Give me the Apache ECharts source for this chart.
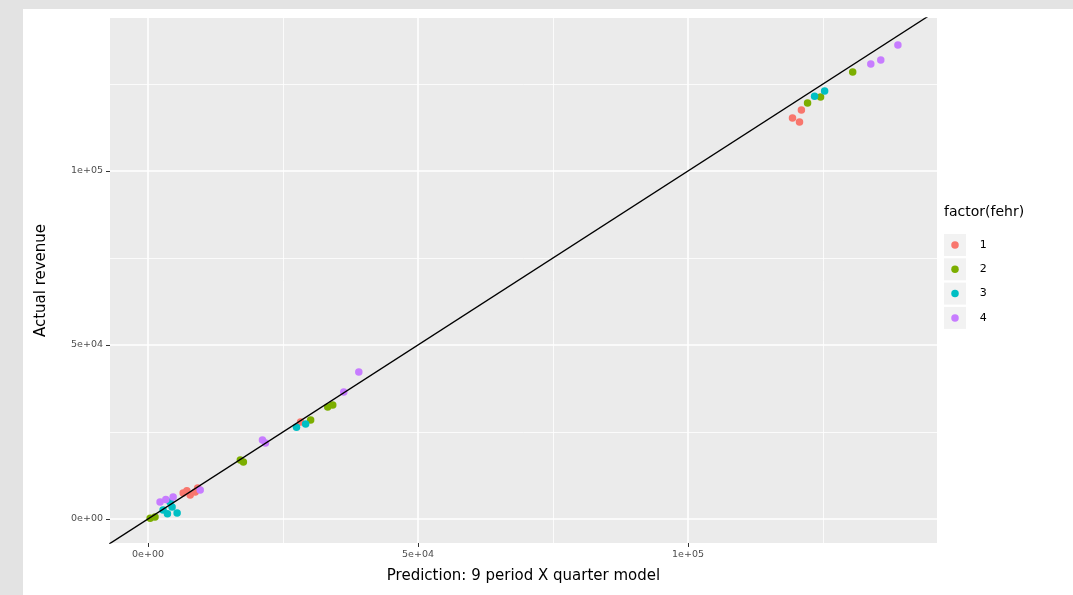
<!DOCTYPE html>
<html>
<head>
<meta charset="utf-8">
<script src="https://cdn.jsdelivr.net/npm/echarts@6/dist/echarts.min.js"></script>
<style>
  html, body { margin: 0; padding: 0; background: #e3e3e3; width: 1073px; height: 595px; overflow: hidden; }
  #chart { position: absolute; left: 23px; top: 9px; width: 1050px; height: 586px; background: #ffffff; }
</style>
</head>
<body>
<div id="chart"></div>
<script>
// Quarter groups and their colours
const groupNames = ['1', '2', '3', '4'];
const groupColors = ['#F8766D', '#7CAE00', '#00BFC4', '#C77CFF'];

// [predicted, actual] revenue per observation, by group
const group1 = [[6510, 7470], [7810, 6900], [8740, 7760], [7200, 8100], [9200, 8900],
                [28260, 27880], [119350, 115250], [120650, 114100], [121000, 117500]];
const group2 = [[400, 200], [1300, 570], [17660, 16380], [17100, 16960],
                [30120, 28450], [33280, 32190], [34210, 32760],
                [122140, 119560], [124550, 121280], [130500, 128470]];
const group3 = [[2790, 2590], [4460, 3450], [5390, 1720], [4090, 4890], [3600, 1500],
                [29190, 27300], [27500, 26400], [125300, 123000], [123440, 121500]];
const group4 = [[2230, 4890], [4650, 6320], [9670, 8330], [3300, 5600], [21750, 21840],
                [21190, 22700], [36250, 36500], [39040, 42250],
                [133850, 130770], [135700, 131900], [138870, 136230]];
const groups = [group1, group2, group3, group4];

// Identity line (actual = predicted)
const identityLine = [[-20000, -20000], [200000, 200000]];

// Axis ticks and grid breaks
const xTickValues = [0, 50000, 100000];
const xTickLabels = ['0e+00', '5e+04', '1e+05'];
const yTickValues = [0, 50000, 100000];
const yTickLabels = ['0e+00', '5e+04', '1e+05'];
const xMinorBreaks = [25000, 75000, 125000];
const yMinorBreaks = [25000, 75000, 125000];

const xRange = [-7037, 146111];
const yRange = [-6897, 143966];

const FONT = '"DejaVu Sans", "Liberation Sans", Arial, sans-serif';

const chart = echarts.init(document.getElementById('chart'), null, { renderer: 'canvas' });

function fmt(values, labels) {
  return function (v) {
    const i = values.indexOf(v);
    return i >= 0 ? labels[i] : '';
  };
}

const minorStyle = { color: '#ffffff', width: 0.8, type: 'solid' };
const majorStyle = { color: '#ffffff', width: 1.6, type: 'solid' };

// Panel grid lines, kept beneath the points and the identity line
const gridLineSeries = {
  type: 'line',
  data: [],
  silent: true,
  z: 1,
  markLine: {
    silent: true,
    z: 1,
    symbol: 'none',
    label: { show: false },
    animation: false,
    data: [
      ...xMinorBreaks.map(v => ({ xAxis: v, lineStyle: minorStyle })),
      ...yMinorBreaks.map(v => ({ yAxis: v, lineStyle: minorStyle })),
      ...xTickValues.map(v => ({ xAxis: v, lineStyle: majorStyle })),
      ...yTickValues.map(v => ({ yAxis: v, lineStyle: majorStyle }))
    ]
  }
};

const scatterSeries = groups.map((g, i) => ({
  name: groupNames[i],
  type: 'scatter',
  data: g,
  symbol: 'circle',
  symbolSize: 7.5,
  z: 3,
  itemStyle: { color: groupColors[i], opacity: 1 }
}));

const lineSeries = {
  type: 'line',
  data: identityLine,
  symbol: 'none',
  silent: true,
  z: 4,
  clip: true,
  lineStyle: { color: '#000000', width: 1.3 }
};

// Legend key backgrounds
const keyTop = 234 - 9;
const keyStep = 24.3;
const keyRects = groupNames.map((n, i) => ({
  type: 'rect',
  left: 944 - 23,
  top: keyTop + i * keyStep,
  shape: { width: 22, height: 22 },
  style: { fill: '#f2f2f2' },
  z: 0
}));

chart.setOption({
  animation: false,
  textStyle: { fontFamily: FONT },
  grid: {
    left: 87, top: 9, right: 136, bottom: 52,
    show: true, backgroundColor: '#ebebeb', borderWidth: 0
  },
  xAxis: {
    type: 'value',
    min: xRange[0], max: xRange[1],
    name: 'Prediction: 9 period X quarter model',
    nameLocation: 'middle',
    nameGap: 26,
    nameTextStyle: { color: '#000000', fontSize: 15, fontFamily: FONT },
    axisLine: { show: false, onZero: false },
    axisTick: { show: true, length: 4, customValues: xTickValues, lineStyle: { color: '#333333', width: 1 } },
    axisLabel: { customValues: xTickValues, formatter: fmt(xTickValues, xTickLabels), color: '#4d4d4d', fontSize: 9.5, margin: 7, fontFamily: FONT },
    splitLine: { show: false }
  },
  yAxis: {
    type: 'value',
    min: yRange[0], max: yRange[1],
    name: 'Actual revenue',
    nameLocation: 'middle',
    nameGap: 61,
    nameRotate: 90,
    nameTextStyle: { color: '#000000', fontSize: 15, fontFamily: FONT },
    axisLine: { show: false, onZero: false },
    axisTick: { show: true, length: 4, customValues: yTickValues, lineStyle: { color: '#333333', width: 1 } },
    axisLabel: { customValues: yTickValues, formatter: fmt(yTickValues, yTickLabels), color: '#4d4d4d', fontSize: 9.5, margin: 7, fontFamily: FONT },
    splitLine: { show: false }
  },
  legend: {
    orient: 'vertical',
    left: 955 - 3.75 - 23,
    top: 245 - 5.5 - 9,
    itemWidth: 7.5,
    itemHeight: 7.5,
    itemGap: 13.3,
    padding: 0,
    data: groupNames,
    icon: 'circle',
    textStyle: { color: '#000000', fontSize: 11, fontFamily: FONT, padding: [0, 0, 0, 16] }
  },
  graphic: [
    ...keyRects,
    {
      type: 'text',
      left: 944 - 23,
      top: 205 - 9,
      style: { text: 'factor(fehr)', fill: '#000000', font: '14px "DejaVu Sans", "Liberation Sans", sans-serif' }
    }
  ],
  series: [gridLineSeries, ...scatterSeries, lineSeries]
});
</script>
</body>
</html>
